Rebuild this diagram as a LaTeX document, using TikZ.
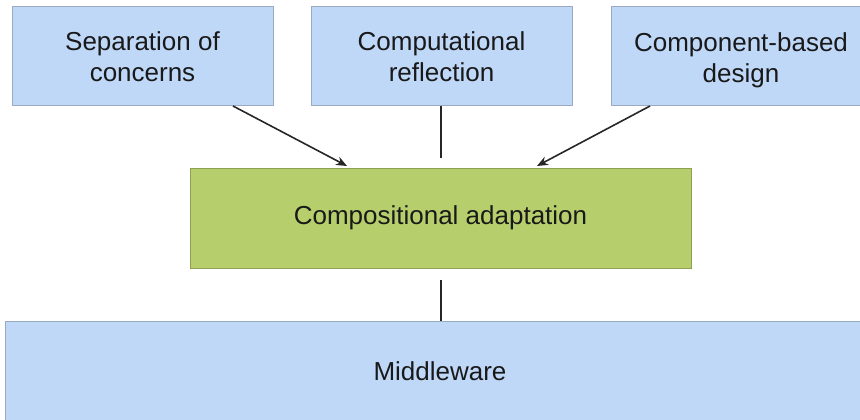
\documentclass[tikz,border=0pt]{standalone}
\usepackage{fontspec}
\setmainfont{Liberation Sans}
\usetikzlibrary{arrows.meta}
\definecolor{boxblue}{HTML}{C0D8F8}
\definecolor{boxblueline}{HTML}{9AAAC0}
\definecolor{boxgreen}{HTML}{B6CF6C}
\definecolor{boxgreenline}{HTML}{8FA055}
\begin{document}
\begin{tikzpicture}[x=1pt,y=-1pt,
  bluebox/.style={draw=boxblueline,fill=boxblue,line width=0.8pt},
  greenbox/.style={draw=boxgreenline,fill=boxgreen,line width=0.8pt},
  lbl/.style={font=\fontsize{26}{31}\selectfont,align=center,text=black!90},
  conn/.style={line width=1.6pt,black!85},
  arr/.style={conn,-{Stealth[length=11pt,width=9pt]}}]
\useasboundingbox (0,0) rectangle (860,420);
\begin{scope}
\clip (0,0) rectangle (860,420);
\draw[bluebox] (12,6) rectangle (273,105);
\draw[bluebox] (311,6) rectangle (572,105);
\draw[bluebox] (611,6) rectangle (875,105);
\draw[greenbox] (190,168) rectangle (691,268);
\draw[bluebox] (5,321) rectangle (875,425);
\end{scope}
\node[lbl] (sep) at (142.5,57) {Separation of\\concerns};
\node[lbl] (ref) at (441.5,57) {Computational\\reflection};
\node[lbl] (cbd) at (741,60) {Component-based\\design};
\node[lbl] (comp) at (440.5,218) {Compositional adaptation};
\node[lbl] (mw) at (440,371) {Middleware};
\coordinate (a1s) at (233,106);
\coordinate (a1e) at (347,166);
\coordinate (a2s) at (441,106);
\coordinate (a2e) at (441,158);
\coordinate (a3s) at (650,106);
\coordinate (a3e) at (537,166);
\coordinate (a4s) at (441,280);
\coordinate (a4e) at (441,321);
\draw[arr] (a1s) -- (a1e);
\draw[conn] (a2s) -- (a2e);
\draw[arr] (a3s) -- (a3e);
\draw[conn] (a4s) -- (a4e);
\end{tikzpicture}
\end{document}
